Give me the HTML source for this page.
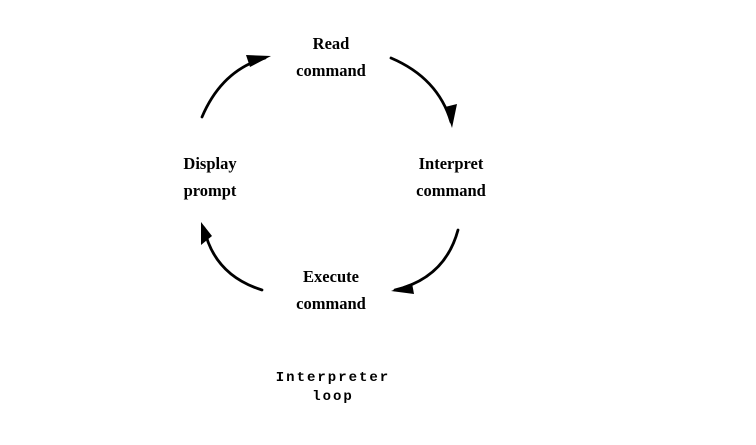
<!DOCTYPE html>
<html><head><meta charset="utf-8"><style>
html,body{margin:0;padding:0;background:#fff;}
svg{display:block;}
.t{font-family:"Liberation Serif",serif;font-weight:bold;font-size:16.5px;fill:#000;text-anchor:middle;}
.m{font-family:"Liberation Mono",monospace;font-weight:bold;font-size:14px;letter-spacing:2px;fill:#000;text-anchor:middle;}
.a{fill:none;stroke:#000;stroke-width:2.8;stroke-linecap:round;}
</style></head><body>
<svg width="756" height="445" viewBox="0 0 756 445">
<text class="t" x="331" y="49">Read</text>
<text class="t" x="331" y="76">command</text>
<text class="t" x="210" y="169">Display</text>
<text class="t" x="210" y="196">prompt</text>
<text class="t" x="451" y="169">Interpret</text>
<text class="t" x="451" y="196">command</text>
<text class="t" x="331" y="282">Execute</text>
<text class="t" x="331" y="309">command</text>
<text class="m" x="333" y="381">Interpreter</text>
<text class="m" x="333" y="400">loop</text>
<path class="a" d="M202,117 Q222,70 265,58"/>
<path d="M246,55 L271,56 L250,67 Z" fill="#000"/>
<path class="a" d="M391,58 Q438,78 451,122"/>
<path d="M445,107 L452,128 L457,104 Z" fill="#000"/>
<path class="a" d="M458,230 Q445,278 395,290"/>
<path d="M412,283 L391,291 L414,294 Z" fill="#000"/>
<path class="a" d="M262,290 Q214,275 204,228"/>
<path d="M201,222 L201,245 L212,236 Z" fill="#000"/>
</svg>
</body></html>
